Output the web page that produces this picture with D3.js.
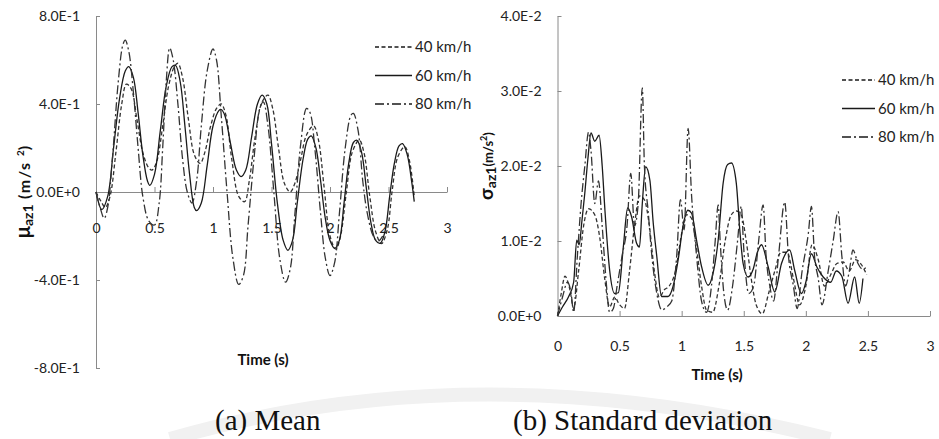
<!DOCTYPE html>
<html>
<head>
<meta charset="utf-8">
<script src="https://cdn.jsdelivr.net/npm/d3@7/dist/d3.min.js"></script>
<style>
  body { margin: 0; background: #fff; }
</style>
</head>
<body>
<script>
// legend entries and tick labels
var speeds = ["40 km/h", "60 km/h", "80 km/h"];
var timeTicks = [0, 0.5, 1, 1.5, 2, 2.5, 3];
var timeTickLabels = ["0", "0.5", "1", "1.5", "2", "2.5", "3"];
var meanTicks = [0.8, 0.4, 0, -0.4, -0.8];
var meanTickLabels = ["8.0E-1", "4.0E-1", "0.0E+0", "-4.0E-1", "-8.0E-1"];
var sdTicks = [0.04, 0.03, 0.02, 0.01, 0];
var sdTickLabels = ["4.0E-2", "3.0E-2", "2.0E-2", "1.0E-2", "0.0E+0"];
var captions = ["(a) Mean", "(b) Standard deviation"];

// (a) mean, [time s, m/s2]
var mean40 = [[0,0],[0.04,-0.04],[0.08,-0.07],[0.12,-0.02],[0.17,0.18],[0.22,0.4],[0.26,0.49],[0.3,0.47],[0.35,0.33],
  [0.4,0.18],[0.45,0.11],[0.48,0.1],[0.52,0.14],[0.57,0.3],[0.62,0.48],[0.67,0.57],[0.7,0.585],[0.74,0.52],[0.79,0.33],
  [0.84,0.17],[0.89,0.13],[0.93,0.18],[0.98,0.3],[1.03,0.38],[1.07,0.4],[1.11,0.35],[1.16,0.15],[1.22,-0.02],[1.27,-0.044],
  [1.31,0.05],[1.36,0.25],[1.42,0.41],[1.47,0.44],[1.51,0.38],[1.56,0.2],[1.61,0.04],[1.66,0.0],[1.7,0.04],[1.75,0.15],
  [1.8,0.26],[1.86,0.3],[1.9,0.24],[1.95,0.02],[2.0,-0.2],[2.05,-0.26],[2.09,-0.2],[2.14,0.0],[2.19,0.18],[2.25,0.236],
  [2.29,0.18],[2.34,-0.02],[2.39,-0.18],[2.44,-0.235],[2.49,-0.17],[2.53,0.0],[2.58,0.16],[2.64,0.206],[2.68,0.14],[2.72,-0.02]];
var mean60 = [[0,0],[0.05,-0.08],[0.1,-0.02],[0.15,0.2],[0.2,0.42],[0.25,0.55],[0.28,0.57],[0.32,0.52],[0.36,0.36],
  [0.4,0.17],[0.44,0.05],[0.46,0.03],[0.5,0.08],[0.55,0.28],[0.6,0.48],[0.65,0.57],[0.68,0.575],[0.72,0.5],[0.76,0.3],
  [0.8,0.08],[0.84,-0.07],[0.86,-0.085],[0.9,-0.05],[0.95,0.12],[1.0,0.3],[1.05,0.37],[1.07,0.375],[1.1,0.35],[1.15,0.22],
  [1.2,0.1],[1.24,0.07],[1.28,0.1],[1.33,0.25],[1.38,0.4],[1.42,0.44],[1.46,0.4],[1.5,0.22],[1.55,-0.05],[1.6,-0.22],
  [1.64,-0.265],[1.68,-0.22],[1.72,-0.05],[1.77,0.15],[1.81,0.24],[1.84,0.255],[1.88,0.2],[1.92,0.05],[1.96,-0.12],
  [2.0,-0.22],[2.04,-0.256],[2.08,-0.22],[2.12,-0.05],[2.16,0.13],[2.2,0.225],[2.23,0.235],[2.27,0.18],[2.31,0.02],
  [2.35,-0.14],[2.39,-0.22],[2.43,-0.233],[2.47,-0.18],[2.51,-0.02],[2.55,0.13],[2.59,0.21],[2.62,0.22],[2.66,0.17],
  [2.7,0.04],[2.72,-0.044]];
var mean80 = [[0,0],[0.04,-0.08],[0.07,-0.12],[0.1,-0.07],[0.14,0.15],[0.19,0.5],[0.23,0.67],[0.25,0.69],[0.28,0.64],
  [0.32,0.45],[0.36,0.2],[0.4,-0.02],[0.45,-0.13],[0.5,-0.15],[0.54,-0.05],[0.57,0.2],[0.6,0.5],[0.63,0.655],[0.66,0.6],
  [0.7,0.4],[0.74,0.15],[0.78,0.0],[0.82,-0.05],[0.86,0.05],[0.9,0.3],[0.95,0.55],[1.0,0.65],[1.03,0.6],[1.07,0.35],
  [1.12,0.0],[1.17,-0.3],[1.22,-0.42],[1.26,-0.38],[1.3,-0.15],[1.35,0.15],[1.4,0.38],[1.43,0.41],[1.47,0.3],[1.52,0.0],
  [1.57,-0.3],[1.62,-0.41],[1.66,-0.35],[1.7,-0.1],[1.75,0.22],[1.8,0.38],[1.83,0.36],[1.87,0.2],[1.92,-0.1],[1.96,-0.3],
  [2.0,-0.38],[2.04,-0.32],[2.08,-0.1],[2.13,0.2],[2.18,0.35],[2.2,0.357],[2.24,0.28],[2.28,0.05],[2.32,-0.1],
  [2.37,-0.2],[2.41,-0.225],[2.45,-0.2]];

// (b) standard deviation, [time s, m/s2]
var sd40 = [[0,0],[0.03,0.003],[0.06,0.0053],[0.1,0.0035],[0.13,0.001],[0.17,0.006],[0.21,0.012],[0.25,0.0143],
  [0.3,0.0135],[0.34,0.0105],[0.38,0.005],[0.42,0.0012],[0.46,0.0025],[0.5,0.0015],[0.54,0.001],[0.58,0.006],[0.62,0.012],
  [0.66,0.016],[0.7,0.0155],[0.74,0.012],[0.78,0.006],[0.82,0.0025],[0.86,0.0035],[0.9,0.004],[0.95,0.006],[1.0,0.011],
  [1.04,0.0135],[1.08,0.013],[1.12,0.009],[1.16,0.004],[1.2,0.0008],[1.25,0.0005],[1.3,0.004],[1.35,0.01],[1.4,0.0135],
  [1.44,0.014],[1.48,0.0135],[1.52,0.01],[1.56,0.005],[1.6,0.0015],[1.65,0.0003],[1.7,0.003],[1.75,0.006],[1.8,0.0085],
  [1.85,0.0085],[1.9,0.005],[1.95,0.0015],[2.0,0.004],[2.05,0.0095],[2.1,0.0075],[2.15,0.004],[2.2,0.0055],[2.25,0.007],
  [2.3,0.0072],[2.35,0.006],[2.4,0.0075],[2.45,0.0068],[2.49,0.0055]];
var sd60 = [[0,0],[0.04,0.0012],[0.09,0.0026],[0.13,0.0045],[0.155,0.0101],[0.175,0.0095],[0.195,0.0124],[0.22,0.0164],
  [0.245,0.021],[0.27,0.0244],[0.3,0.0233],[0.335,0.0241],[0.36,0.02],[0.382,0.0141],[0.42,0.0061],[0.46,0.003],
  [0.49,0.0031],[0.53,0.0092],[0.565,0.0144],[0.597,0.0132],[0.637,0.0097],[0.66,0.0092],[0.683,0.015],[0.71,0.0199],
  [0.744,0.0181],[0.771,0.0124],[0.8,0.0079],[0.838,0.0026],[0.89,0.0026],[0.93,0.0039],[0.972,0.0075],[1.01,0.0119],
  [1.05,0.0141],[1.08,0.0137],[1.12,0.0101],[1.16,0.0066],[1.213,0.0041],[1.253,0.0057],[1.294,0.0101],[1.334,0.0177],
  [1.37,0.0202],[1.401,0.0204],[1.44,0.0177],[1.468,0.0115],[1.495,0.007],[1.535,0.0052],[1.575,0.0062],[1.61,0.0085],
  [1.643,0.0095],[1.696,0.0066],[1.75,0.0032],[1.804,0.007],[1.87,0.0088],[1.91,0.0061],[1.965,0.003],[2.0,0.0045],
  [2.045,0.0083],[2.09,0.0065],[2.14,0.0052],[2.2,0.0045],[2.245,0.006],[2.29,0.0053],[2.34,0.0017],[2.393,0.0052],
  [2.43,0.0017],[2.46,0.005]];
var sd80 = [[0,0],[0.04,0.0025],[0.08,0.0045],[0.11,0.003],[0.13,0.0005],[0.16,0.008],[0.19,0.015],[0.22,0.02],
  [0.25,0.0245],[0.27,0.022],[0.3,0.015],[0.33,0.018],[0.36,0.012],[0.39,0.005],[0.42,0.0005],[0.45,0.001],[0.48,0.004],
  [0.52,0.008],[0.56,0.012],[0.59,0.019],[0.62,0.012],[0.65,0.015],[0.683,0.0304],[0.7,0.02],[0.73,0.014],[0.76,0.008],
  [0.8,0.003],[0.84,0.0008],[0.88,0.0012],[0.92,0.002],[0.96,0.008],[0.99,0.0155],[1.02,0.0115],[1.052,0.025],[1.08,0.016],
  [1.12,0.008],[1.16,0.002],[1.2,0.0005],[1.24,0.004],[1.27,0.01],[1.294,0.0148],[1.31,0.01],[1.34,0.003],[1.37,0.0008],
  [1.41,0.004],[1.45,0.01],[1.48,0.0146],[1.5,0.009],[1.54,0.003],[1.58,0.004],[1.62,0.01],[1.656,0.0148],[1.68,0.008],
  [1.71,0.004],[1.74,0.002],[1.78,0.008],[1.83,0.0152],[1.86,0.008],[1.9,0.004],[1.93,0.001],[1.97,0.006],[2.02,0.011],
  [2.045,0.0146],[2.07,0.008],[2.1,0.005],[2.13,0.0015],[2.18,0.006],[2.22,0.01],[2.26,0.0139],[2.29,0.008],[2.32,0.004],
  [2.35,0.006],[2.38,0.0088],[2.42,0.007],[2.46,0.0062],[2.49,0.0066]];

var w = 939;
var h = 439;
var axisColor = "#8a8a8a";
var tickFont = "Lato, 'Open Sans', sans-serif";

var svg = d3.select("body")
            .append("svg")
            .attr("width", w)
            .attr("height", h);

// faint watermark swoosh behind the captions
svg.append("path")
    .attr("d", "M170,439 Q480,350 830,439")
    .attr("fill", "none")
    .attr("stroke", "#f1f1f1")
    .attr("stroke-width", 14);

function dashFor(i) {
    if (i == 0) return "4,2.5";
    if (i == 2) return "9,3,2,3";
    return null;
}

function drawPanel(p) {
    var x = d3.scaleLinear().domain([0, 3]).range([p.left, p.right]);
    var y = d3.scaleLinear().domain(p.yDomain).range([p.bottom, p.top]);
    var g = svg.append("g");

    var yAxis = d3.axisLeft(y)
                  .tickValues(p.yTicks)
                  .tickFormat(function(d, i) { return p.yLabels[i]; })
                  .tickSizeInner(-4)
                  .tickSizeOuter(0)
                  .tickPadding(16);
    var ya = g.append("g")
              .attr("transform", "translate(" + p.left + ",0)")
              .call(yAxis);

    var xAxis = d3.axisBottom(x)
                  .tickValues(timeTicks)
                  .tickFormat(function(d, i) { return timeTickLabels[i]; })
                  .tickSizeInner(-5)
                  .tickSizeOuter(0)
                  .tickPadding(p.xPad);
    var xa = g.append("g")
              .attr("transform", "translate(0," + y(0) + ")")
              .call(xAxis);

    [ya, xa].forEach(function(a) {
        a.attr("font-family", null).attr("font-size", null);
        a.selectAll("path, line").attr("stroke", axisColor);
        a.selectAll("text")
            .style("font-family", tickFont)
            .style("font-size", "14px")
            .attr("fill", "#222");
    });

    var line = d3.line()
                 .x(function(d) { return x(d[0]); })
                 .y(function(d) { return y(d[1]); })
                 .curve(p.curve);

    p.series.forEach(function(s, i) {
        g.append("path")
            .attr("d", line(s))
            .attr("fill", "none")
            .attr("stroke", i == 1 ? "#1a1a1a" : "#333")
            .attr("stroke-width", 1.3)
            .attr("stroke-dasharray", dashFor(i));
    });

    // legend
    var leg = g.append("g");
    speeds.forEach(function(s, i) {
        var ly = p.legY + i * p.legStep;
        leg.append("line")
            .attr("x1", p.legX).attr("x2", p.legX + p.legLen)
            .attr("y1", ly).attr("y2", ly)
            .attr("stroke", "#1a1a1a")
            .attr("stroke-width", 1.3)
            .attr("stroke-dasharray", dashFor(i));
        leg.append("text")
            .attr("x", p.legX + p.legLen + 3)
            .attr("y", ly)
            .attr("dy", "0.35em")
            .style("font-family", tickFont)
            .style("font-size", "15px")
            .attr("fill", "#222")
            .text(s);
    });

    // x title
    g.append("text")
        .attr("x", p.titleX)
        .attr("y", p.titleY)
        .attr("text-anchor", "middle")
        .style("font-family", tickFont)
        .style("font-size", "15px")
        .style("font-weight", "bold")
        .attr("fill", "#111")
        .text("Time (s)");

    // y title, rotated
    var yt = g.append("text")
              .attr("transform", "translate(" + p.ylabX + "," + ((p.top + p.bottom) / 2) + ") rotate(-90)")
              .attr("text-anchor", "middle")
              .style("font-family", tickFont)
              .style("font-weight", "bold")
              .attr("fill", "#111");
    yt.append("tspan").style("font-size", p.yl[0] + "px").text(p.symbol);
    yt.append("tspan").style("font-size", p.yl[1] + "px").attr("dy", 3).text("az1");
    yt.append("tspan").style("font-size", p.yl[2] + "px").attr("dy", -3)
        .style("letter-spacing", p.yl[4] + "px").text(p.unitOpen);
    yt.append("tspan").style("font-size", p.yl[3] + "px").attr("dy", -6).text("2");
    yt.append("tspan").style("font-size", p.yl[2] + "px").attr("dy", 6).text(")");

    // caption
    svg.append("text")
        .attr("x", p.capX)
        .attr("y", 430)
        .style("font-family", "'Liberation Serif', 'Times New Roman', serif")
        .style("font-size", "29px")
        .attr("fill", "#111")
        .text(p.caption);
}

drawPanel({
    left: 96, right: 447, top: 16, bottom: 368,
    yDomain: [-0.8, 0.8], yTicks: meanTicks, yLabels: meanTickLabels,
    xPad: 31, series: [mean40, mean60, mean80], curve: d3.curveCatmullRom,
    legX: 375, legY: 47, legStep: 28.5, legLen: 37,
    titleX: 263, titleY: 365,
    ylabX: 30, symbol: "\u03bc", unitOpen: " (m/s ", yl: [20, 14, 16, 10, 1.5],
    capX: 215, caption: captions[0]
});

drawPanel({
    left: 557.5, right: 930, top: 16, bottom: 316,
    yDomain: [0, 0.04], yTicks: sdTicks, yLabels: sdTickLabels,
    xPad: 25, series: [sd40, sd60, sd80], curve: d3.curveMonotoneX,
    legX: 842, legY: 80, legStep: 28.5, legLen: 33,
    titleX: 717, titleY: 380,
    ylabX: 493, symbol: "\u03c3", unitOpen: "(m/s", yl: [19, 14, 13, 9, 0],
    capX: 513, caption: captions[1]
});
</script>
</body>
</html>
